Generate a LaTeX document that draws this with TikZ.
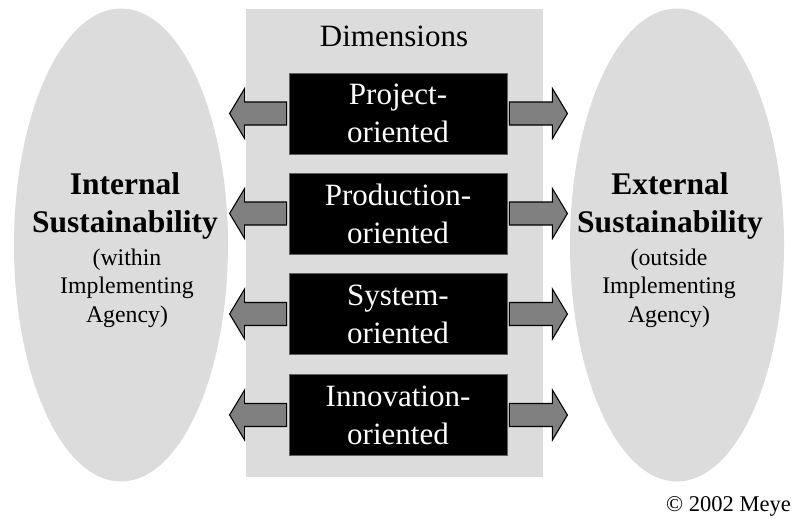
\documentclass[tikz,border=0pt]{standalone}
\usepackage{fontspec}
\setmainfont{Liberation Serif}
\usetikzlibrary{shapes.geometric,calc}
\definecolor{panelgray}{HTML}{DCDCDC}
\definecolor{arrowgray}{HTML}{808080}
\definecolor{boxedge}{HTML}{606060}
\tikzset{
  panel/.style={fill=panelgray, draw=none},
  oval/.style={ellipse, fill=panelgray, draw=none, minimum width=214pt, minimum height=473pt, inner sep=0pt},
  dimbox/.style={rectangle, fill=black, draw=boxedge, line width=0.8pt, text=white, minimum width=218pt, minimum height=81pt, align=center, inner sep=0pt, font=\fontsize{31}{38}\selectfont},
  blk/.style={fill=arrowgray, draw=black, line width=1.1pt, line join=miter},
  ovaltitle/.style={align=center, inner sep=0pt, anchor=base, font=\fontsize{31.5}{38}\selectfont\bfseries},
  ovalsub/.style={align=center, inner sep=0pt, anchor=base, font=\fontsize{23.8}{28.5}\selectfont}
}
\begin{document}
\begin{tikzpicture}[x=1pt, y=-1pt]
\useasboundingbox (0,0) rectangle (794,527);
% central panel
\node[panel, minimum width=297pt, minimum height=468pt, inner sep=0pt] (dim) at (394.5,243) {};
\node[anchor=base, font=\fontsize{31}{37}\selectfont] (dimtitle) at (394,47) {Dimensions};
% ellipses
\node[oval] (int) at (121,245) {};
\node[oval] (ext) at (677,245) {};
\node[ovaltitle] (inttitle) at (125,232) {Internal\\ Sustainability};
\node[ovalsub] (intsub) at (127,322) {(within\\ Implementing\\ Agency)};
\node[ovaltitle] (exttitle) at (670,232) {External\\ Sustainability};
\node[ovalsub] (extsub) at (669,322) {(outside\\ Implementing\\ Agency)};
% dimension boxes
\node[dimbox] (b1) at (398,113.5) {Project-\\oriented};
\node[dimbox] (b2) at (398,213.5) {Production-\\oriented};
\node[dimbox] (b3) at (398,314) {System-\\oriented};
\node[dimbox] (b4) at (398,415) {Innovation-\\oriented};
% block arrows
\foreach \b in {b1,b2,b3,b4}{
  \draw[blk] ($(\b.west)+(-2,11.5)$) -- ++(-42,0) -- ++(0,13.5) -- ++(-15,-25) -- ++(15,-25) -- ++(0,13.5) -- ++(42,0) -- cycle;
  \draw[blk] ($(\b.east)+(2,-11.5)$) -- ++(43,0) -- ++(0,-13.5) -- ++(15,25) -- ++(-15,25) -- ++(0,-13.5) -- ++(-43,0) -- cycle;
}
% copyright
\node[anchor=base east, inner sep=0pt, font=\fontsize{22.5}{26}\selectfont] (copy) at (791,511) {© 2002 Meye};
\end{tikzpicture}
\end{document}
